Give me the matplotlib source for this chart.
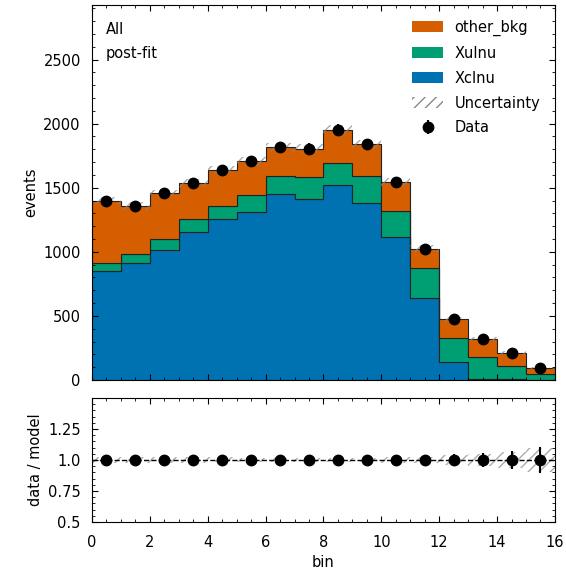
import numpy as np
import matplotlib
matplotlib.use("Agg")
import matplotlib.pyplot as plt
from matplotlib.patches import Patch

# Post-fit yields per bin
bin_edges = np.arange(0, 17)
xclnu = [851, 911, 1015, 1153, 1257, 1307, 1453, 1414, 1518, 1380, 1114, 640, 143, 10, 6, 4]
xulnu = [60, 73, 84, 104, 102, 135, 138, 166, 177, 211, 206, 232, 188, 167, 106, 40]
other_bkg = [489, 376, 356, 278, 281, 263, 224, 225, 255, 249, 225, 153, 144, 143, 98, 51]
data = [1400, 1360, 1455, 1535, 1640, 1705, 1815, 1805, 1950, 1840, 1545, 1025, 475, 320, 210, 95]
data_err = [37.4, 36.9, 38.1, 39.2, 40.5, 41.3, 42.6, 42.5, 44.2, 42.9, 39.3, 32.0, 21.8, 17.9, 14.5, 9.7]
model_unc = [30, 30, 31, 32, 33, 34, 35, 35, 36, 35, 32, 26, 19, 16, 14, 9]

colors = {"Xclnu": "#0072B2", "Xulnu": "#009E73", "other_bkg": "#D55E00"}

plt.rcParams.update({
    "font.size": 10.5,
    "xtick.direction": "in",
    "ytick.direction": "in",
    "xtick.top": True,
    "ytick.right": True,
    "xtick.minor.visible": True,
    "ytick.minor.visible": True,
    "xtick.major.size": 4,
    "ytick.major.size": 4,
    "xtick.minor.size": 2,
    "ytick.minor.size": 2,
    "xtick.major.pad": 9,
    "ytick.major.pad": 8,
})

fig = plt.figure(figsize=(5.66, 5.70), dpi=100)
ax = fig.add_axes([0.1625, 0.3333, 0.818, 0.6579])
rax = fig.add_axes([0.1625, 0.0842, 0.818, 0.2176], sharex=ax)

centers = 0.5 * (bin_edges[:-1] + bin_edges[1:])
stack = [("Xclnu", xclnu), ("Xulnu", xulnu), ("other_bkg", other_bkg)]
bottom = np.zeros(len(centers))
for name, vals in stack:
    vals = np.asarray(vals, dtype=float)
    ax.hist(centers, bins=bin_edges, weights=vals, bottom=bottom,
            histtype="stepfilled", color=colors[name], edgecolor="#222222",
            linewidth=0.8, label=name)
    bottom = bottom + vals
total = bottom

# Model uncertainty band
hatch_color = "#888888"
unc = np.asarray(model_unc, dtype=float)
lo = np.append(total - unc, total[-1] - unc[-1])
hi = np.append(total + unc, total[-1] + unc[-1])
ax.fill_between(bin_edges, lo, hi, step="post", facecolor="none",
                edgecolor=hatch_color, hatch="///", linewidth=0, alpha=0.7)

data = np.asarray(data, dtype=float)
data_err = np.asarray(data_err, dtype=float)
ax.errorbar(centers, data, yerr=data_err, fmt="o", color="black",
            markersize=7.5, elinewidth=1.5, capsize=0, label="Data")

ax.set_xlim(0, 16)
ax.set_ylim(0, 1.5 * total.max())
ax.set_ylabel("events")
ax.tick_params(labelbottom=False)
ax.text(0.03, 0.955, "All", transform=ax.transAxes, va="top")
ax.text(0.03, 0.89, "post-fit", transform=ax.transAxes, va="top")

handles = [
    Patch(facecolor=colors["other_bkg"], label="other_bkg"),
    Patch(facecolor=colors["Xulnu"], label="Xulnu"),
    Patch(facecolor=colors["Xclnu"], label="Xclnu"),
    Patch(facecolor="none", edgecolor=hatch_color, hatch="///", linewidth=0,
          label="Uncertainty"),
]
h, l = ax.get_legend_handles_labels()
handles.append(h[l.index("Data")])
ax.legend(handles=handles,
          labels=["other_bkg", "Xulnu", "Xclnu", "Uncertainty", "Data"],
          loc="upper right", frameon=False, handlelength=2.1,
          handleheight=0.8, labelspacing=0.68, borderaxespad=0.6,
          handletextpad=0.8)

# Ratio panel
ratio = data / total
ratio_err = data_err / total
rel_unc = unc / total
rax.fill_between(bin_edges, np.append(1 - rel_unc, 1 - rel_unc[-1]),
                 np.append(1 + rel_unc, 1 + rel_unc[-1]), step="post",
                 facecolor="none", edgecolor=hatch_color, hatch="///",
                 linewidth=0, alpha=0.7)
rax.axhline(1.0, color="black", linestyle="--", linewidth=1)
rax.errorbar(centers, ratio, yerr=ratio_err, fmt="o", color="black",
             markersize=7.5, elinewidth=1.5, capsize=0)
rax.set_ylim(0.5, 1.5)
rax.set_yticks([0.5, 0.75, 1.0, 1.25])
rax.set_yticklabels(["0.5", "0.75", "1.0", "1.25"])
rax.set_xticks(np.arange(0, 17, 2))
rax.set_xlabel("bin")
rax.set_ylabel("data / model")

fig.savefig("out.png", dpi=100)
